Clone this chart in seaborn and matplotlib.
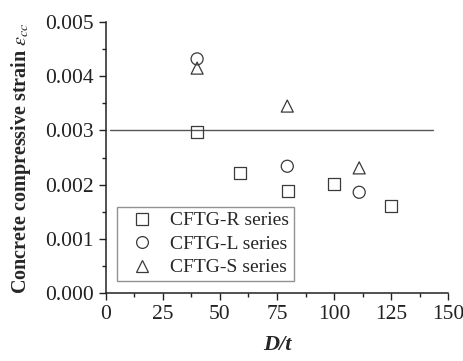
import matplotlib
matplotlib.use("Agg")
import matplotlib.pyplot as plt
import seaborn as sns
import pandas as pd
from matplotlib.lines import Line2D
from matplotlib.ticker import MultipleLocator, FormatStrFormatter

# Test data: diameter-to-thickness ratio vs. concrete compressive strain
r_dt = [40, 59, 80, 100, 125]
r_strain = [0.00297, 0.00221, 0.00188, 0.00201, 0.00160]
l_dt = [40, 79.5, 111]
l_strain = [0.00432, 0.00234, 0.00186]
s_dt = [40, 79.5, 111]
s_strain = [0.00415, 0.00345, 0.00231]
series_names = ["CFTG-R series", "CFTG-L series", "CFTG-S series"]
ref_strain = 0.003
ref_span = [2, 143.5]

df = pd.concat([
    pd.DataFrame({"D/t": r_dt, "strain": r_strain, "series": series_names[0]}),
    pd.DataFrame({"D/t": l_dt, "strain": l_strain, "series": series_names[1]}),
    pd.DataFrame({"D/t": s_dt, "strain": s_strain, "series": series_names[2]}),
])

sns.set_style("ticks")
plt.rcParams["font.family"] = ["Liberation Serif", "DejaVu Serif"]
plt.rcParams["mathtext.fontset"] = "stix"

fig = plt.figure(figsize=(4.64, 3.61), dpi=100)
ax = fig.add_axes([0.228, 0.188, 0.738, 0.751])

ax.plot(ref_span, [ref_strain, ref_strain], color="#555555", lw=1.0, zorder=1)

edge = "#3a3a3a"
sns.scatterplot(
    data=df, x="D/t", y="strain", hue="series", style="series",
    markers={series_names[0]: "s", series_names[1]: "o", series_names[2]: "^"},
    palette={n: edge for n in series_names},
    s=75, linewidth=0.9, ax=ax, zorder=3, legend=False,
)
for coll in ax.collections:
    coll.set_facecolor("none")
    coll.set_edgecolor(edge)

ax.set_xlim(0, 150)
ax.set_ylim(0, 0.005)
ax.xaxis.set_major_locator(MultipleLocator(25))
ax.xaxis.set_minor_locator(MultipleLocator(12.5))
ax.yaxis.set_major_locator(MultipleLocator(0.001))
ax.yaxis.set_minor_locator(MultipleLocator(0.0005))
ax.yaxis.set_major_formatter(FormatStrFormatter("%.3f"))
ax.tick_params(which="major", direction="out", length=5, width=1, labelsize=15.5, colors="#222222")
ax.tick_params(which="minor", direction="out", length=3, width=1, colors="#222222")
for side in ("top", "right"):
    ax.spines[side].set_visible(False)
for side in ("left", "bottom"):
    ax.spines[side].set_linewidth(1.1)
    ax.spines[side].set_color("#222222")

ax.set_xlabel("D/t", fontsize=16, fontweight="bold", fontstyle="italic", labelpad=8)
ax.set_ylabel("Concrete compressive strain $\\varepsilon_{cc}$", fontsize=14.5,
              fontweight="bold", labelpad=9)

handles = [Line2D([], [], ls="none", marker=m, markersize=8.5, markerfacecolor="none",
                  markeredgecolor=edge, markeredgewidth=0.9)
           for m in ("s", "o", "^")]
leg = ax.legend(handles, series_names, loc="lower left", bbox_to_anchor=(0.032, 0.044),
                borderaxespad=0, fontsize=14, frameon=True, fancybox=False,
                edgecolor="#777777", handletextpad=0.4, labelspacing=0.3,
                borderpad=0.25, handlelength=2.1)
leg.get_frame().set_linewidth(1.0)

fig.savefig("out.png", dpi=100)
